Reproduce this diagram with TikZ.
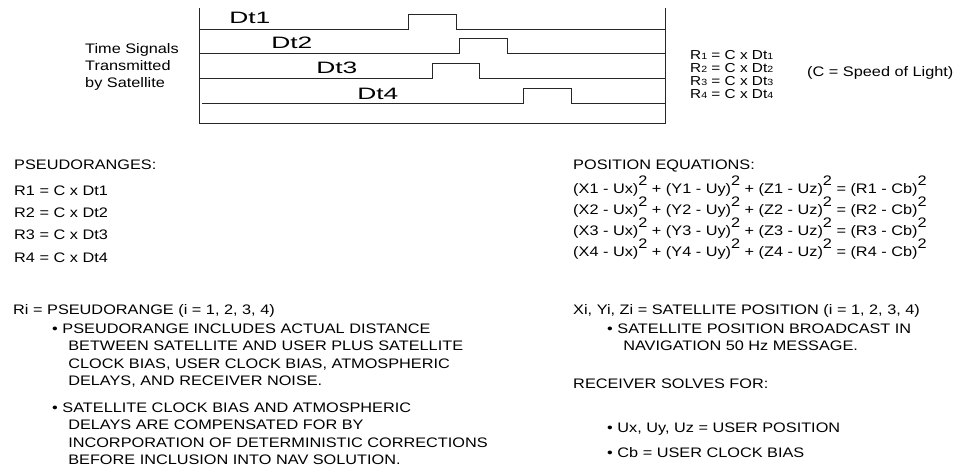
\documentclass[tikz,border=0pt]{standalone}
\usepackage{fontspec}
\setmainfont{Liberation Sans}
\usepackage{tikz}

\newcommand{\pwtwo}{\raisebox{7.5pt}{2}}
\newcommand{\smalldig}[1]{{\fontsize{9}{9}\selectfont #1}}

\tikzset{
  txt/.style={font=\fontsize{13.8}{17.6}\selectfont, xscale=1.18, anchor=base west, inner sep=0pt, align=left},
  dtlabel/.style={font=\fontsize{16.5}{18}\selectfont, xscale=1.6, anchor=base west, inner sep=0pt},
  signal/.style={line width=1pt, black!85}
}

\begin{document}
\begin{tikzpicture}[x=1pt, y=-1pt]
    \useasboundingbox (0,0) rectangle (960,471);

    % Signal box
    \draw[signal] (199,8) -- (199,123) -- (665,123) -- (665,8);
    \foreach \y/\s/\a/\b in {29/199/408/456, 53/199/459/507, 78/199/432/479, 103/202/523/571}
        \draw[signal] (\s,\y) -- (\a,\y) -- (\a,\y-15) -- (\b,\y-15) -- (\b,\y) -- (665,\y);
    \foreach \i/\x/\y in {1/229/23, 2/271/48, 3/316/73, 4/357/99}
        \node[dtlabel] (dt\i) at (\x,\y) {Dt\i};

    % multi-line nodes sit on the baseline of their last line
    \node[txt, font=\fontsize{13.8}{17}\selectfont] (timesig) at (85,87) {Time Signals\\Transmitted\\by Satellite};
    \node[txt, font=\fontsize{13}{13.3}\selectfont] (rangeeq) at (690,98.9)
        {R\smalldig{1} = C x Dt\smalldig{1}\\R\smalldig{2} = C x Dt\smalldig{2}\\R\smalldig{3} = C x Dt\smalldig{3}\\R\smalldig{4} = C x Dt\smalldig{4}};
    \node[txt] (light) at (807,76) {(C = Speed of Light)};

    % Pseudoranges
    \node[txt] (pseudo) at (14,169) {PSEUDORANGES:};
    \foreach \i in {1,...,4}
        \node[txt] (pr\i) at (14,172.6+22.4*\i) {R\i{} = C x Dt\i};

    % Position equations
    \node[txt] (poseq) at (573,169) {POSITION EQUATIONS:};
    \foreach \i in {1,...,4}
        \node[txt] (eq\i) at (573,172+21*\i) {(X\i{} - Ux)\pwtwo{} + (Y\i{} - Uy)\pwtwo{} + (Z\i{} - Uz)\pwtwo{} = (R\i{} - Cb)\pwtwo};

    % Notes left
    \node[txt] (ri) at (13,314) {Ri = PSEUDORANGE (i = 1, 2, 3, 4)};
    \node[txt] (bul1) at (52,385.8) {\textbullet\ PSEUDORANGE INCLUDES ACTUAL DISTANCE\\
        \hspace*{13.6pt}BETWEEN SATELLITE AND USER PLUS SATELLITE\\
        \hspace*{13.6pt}CLOCK BIAS, USER CLOCK BIAS, ATMOSPHERIC\\
        \hspace*{13.6pt}DELAYS, AND RECEIVER NOISE.};
    \node[txt] (bul2) at (52,464.8) {\textbullet\ SATELLITE CLOCK BIAS AND ATMOSPHERIC\\
        \hspace*{13.6pt}DELAYS ARE COMPENSATED FOR BY\\
        \hspace*{13.6pt}INCORPORATION OF DETERMINISTIC CORRECTIONS\\
        \hspace*{13.6pt}BEFORE INCLUSION INTO NAV SOLUTION.};

    % Notes right
    \node[txt] (xyz) at (573,314) {Xi, Yi, Zi = SATELLITE POSITION (i = 1, 2, 3, 4)};
    \node[txt] (bul3) at (607,350.6) {\textbullet\ SATELLITE POSITION BROADCAST IN\\
        \hspace*{13.6pt}NAVIGATION 50 Hz MESSAGE.};
    \node[txt] (solve) at (573,388) {RECEIVER SOLVES FOR:};
    \node[txt] (bul4) at (607,432) {\textbullet\ Ux, Uy, Uz = USER POSITION};
    \node[txt] (bul5) at (607,457) {\textbullet\ Cb = USER CLOCK BIAS};
\end{tikzpicture}
\end{document}
